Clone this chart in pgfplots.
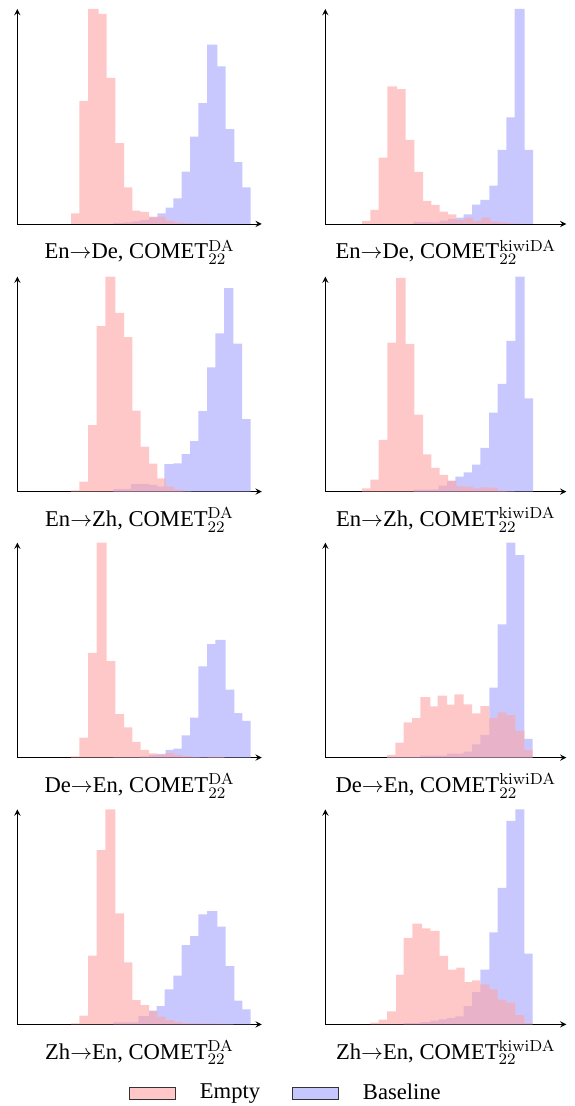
\documentclass[border=0pt]{standalone}
\usepackage[no-math]{fontspec}
\setmainfont{Liberation Serif}
\usepackage{pgfplots}
\pgfplotsset{compat=1.18}

\colorlet{cempty}{red!36}
\colorlet{cbase}{blue!36}

\pgfplotsset{
  panel/.style={
    scale only axis, axis lines=left, xtick=\empty, ytick=\empty,
    ymin=0, height=107.5pt, enlargelimits=false,
    xlabel style={at={(axis description cs:0.5,0)}, anchor=base, yshift=-17.5pt,
                  font=\fontsize{11.3}{13.6}\selectfont},
  },
  lpanel/.style={panel, xmin=52, xmax=785, width=122.2pt},
  rpanel/.style={panel, xmin=115, xmax=838, width=120.5pt},
  emptybar/.style={ybar interval, fill=cempty, fill opacity=0.6, draw=none},
  basebar/.style={ybar interval, fill=cbase, fill opacity=0.6, draw=none},
}

\begin{document}
\begin{tikzpicture}
\useasboundingbox (0,0) rectangle (287pt,-553pt);

% row 1
\begin{axis}[lpanel, at={(8.67pt,-112pt)}, anchor=south west, ymax=644,
  xlabel={En$\rightarrow$De, COMET$^{\mathrm{DA}}_{22}$}]
\addplot[basebar] coordinates {(340,3)(372,5)(397,8)(421,12)(447,20)(472,32)(497,49)(520,77)(545,157)(570,262)(595,362)(621,537)(652,472)(677,284)(703,185)(727,110)(752,0)};
\addplot[emptybar] coordinates {(213,32)(238,369)(264,644)(296,629)(320,438)(346,242)(372,110)(397,40)(421,36)(447,22)(472,22)(497,10)(523,4)(548,2)(573,1)(598,1)(623,0)};
\end{axis}
\begin{axis}[rpanel, at={(162.67pt,-112pt)}, anchor=south west, ymax=644,
  xlabel={En$\rightarrow$De, COMET$^{\mathrm{kiwiDA}}_{22}$}]
\addplot[basebar] coordinates {(380,6)(433,5)(458,10)(483,15)(508,19)(530,29)(555,58)(580,72)(607,115)(632,222)(658,319)(683,644)(713,222)(738,0)};
\addplot[emptybar] coordinates {(225,9)(250,42)(275,199)(301,412)(330,404)(356,252)(382,156)(408,69)(433,57)(458,37)(483,29)(508,12)(533,19)(558,9)(583,19)(610,7)(635,5)(660,2)(685,1)(710,0)};
\end{axis}

% row 2
\begin{axis}[lpanel, at={(8.67pt,-245.8pt)}, anchor=south west, ymax=647,
  xlabel={En$\rightarrow$Zh, COMET$^{\mathrm{DA}}_{22}$}]
\addplot[basebar] coordinates {(340,8)(393,23)(447,20)(472,15)(493,83)(520,85)(545,113)(570,152)(595,242)(621,374)(646,476)(672,612)(700,445)(726,218)(752,0)};
\addplot[emptybar] coordinates {(213,4)(238,30)(264,200)(290,498)(316,647)(346,538)(372,465)(397,244)(422,135)(447,84)(472,40)(497,15)(523,5)(548,1)(573,0)};
\end{axis}
\begin{axis}[rpanel, at={(162.67pt,-245.8pt)}, anchor=south west, ymax=645,
  xlabel={En$\rightarrow$Zh, COMET$^{\mathrm{kiwiDA}}_{22}$}]
\addplot[basebar] coordinates {(380,6)(455,18)(480,32)(505,45)(530,58)(555,81)(580,131)(606,237)(632,323)(658,452)(685,645)(713,280)(738,0)};
\addplot[emptybar] coordinates {(225,10)(250,36)(275,155)(301,447)(327,641)(356,443)(382,231)(408,112)(433,71)(458,50)(483,33)(508,16)(533,15)(558,10)(580,13)(607,12)(632,3)(658,1)(683,0)};
\end{axis}

% row 3
\begin{axis}[lpanel, at={(8.67pt,-378.8pt)}, anchor=south west, ymax=646,
  xlabel={De$\rightarrow$En, COMET$^{\mathrm{DA}}_{22}$}]
\addplot[basebar] coordinates {(340,1)(420,4)(447,8)(472,11)(497,23)(520,27)(545,67)(570,120)(595,274)(621,341)(646,354)(677,204)(703,134)(727,110)(752,0)};
\addplot[emptybar] coordinates {(213,4)(238,60)(264,315)(290,646)(320,290)(346,131)(372,91)(397,47)(422,23)(447,13)(472,8)(497,14)(523,8)(548,4)(573,2)(598,1)(623,3)(648,2)(673,0)};
\end{axis}
\begin{axis}[rpanel, at={(162.67pt,-378.8pt)}, anchor=south west, ymax=646,
  xlabel={De$\rightarrow$En, COMET$^{\mathrm{kiwiDA}}_{22}$}]
\addplot[basebar] coordinates {(300,2)(400,6)(480,12)(530,18)(555,40)(580,68)(607,210)(632,400)(658,646)(685,608)(712,56)(737,0)};
\addplot[emptybar] coordinates {(300,8)(325,45)(350,106)(375,119)(400,182)(430,154)(452,186)(480,159)(502,190)(530,160)(555,133)(580,155)(607,119)(632,136)(658,128)(685,80)(712,23)(737,0)};
\end{axis}

% row 4
\begin{axis}[lpanel, at={(8.67pt,-512.2pt)}, anchor=south west, ymax=645,
  xlabel={Zh$\rightarrow$En, COMET$^{\mathrm{DA}}_{22}$},
  legend columns=2,
  legend style={at={(1.103,-0.319)}, anchor=center, draw=none,
    font=\fontsize{11.3}{13.6}\selectfont,
    /tikz/every even column/.append style={column sep=14pt}},
  legend image code/.code={\draw[#1] (0pt,-3pt) rectangle (23pt,3pt); \path (33pt,0pt);}]
\addplot[basebar, forget plot] coordinates {(340,6)(415,25)(447,41)(470,55)(494,105)(520,146)(545,238)(570,265)(595,330)(621,340)(652,293)(677,175)(703,71)(727,45)(752,0)};
\addplot[emptybar, forget plot] coordinates {(213,3)(238,26)(264,206)(290,523)(316,645)(346,333)(372,186)(397,73)(422,58)(447,40)(472,23)(497,13)(523,7)(548,3)(598,2)(648,1)(700,0)};
\addlegendimage{fill=cempty, fill opacity=0.6, draw=black!80}
\addlegendentry{Empty}
\addlegendimage{fill=cbase, fill opacity=0.6, draw=black!80}
\addlegendentry{Baseline}
\end{axis}
\begin{axis}[rpanel, at={(162.67pt,-512.2pt)}, anchor=south west, ymax=644,
  xlabel={Zh$\rightarrow$En, COMET$^{\mathrm{kiwiDA}}_{22}$}]
\addplot[basebar] coordinates {(350,4)(400,7)(430,11)(455,15)(480,19)(505,24)(530,55)(555,97)(580,164)(607,276)(632,409)(658,610)(685,644)(712,212)(737,0)};
\addplot[emptybar] coordinates {(250,5)(275,14)(300,39)(327,149)(350,259)(376,302)(405,288)(430,280)(458,205)(483,164)(508,170)(533,127)(555,132)(580,120)(607,105)(632,74)(658,65)(685,28)(712,4)(737,0)};
\end{axis}
\end{tikzpicture}
\end{document}
